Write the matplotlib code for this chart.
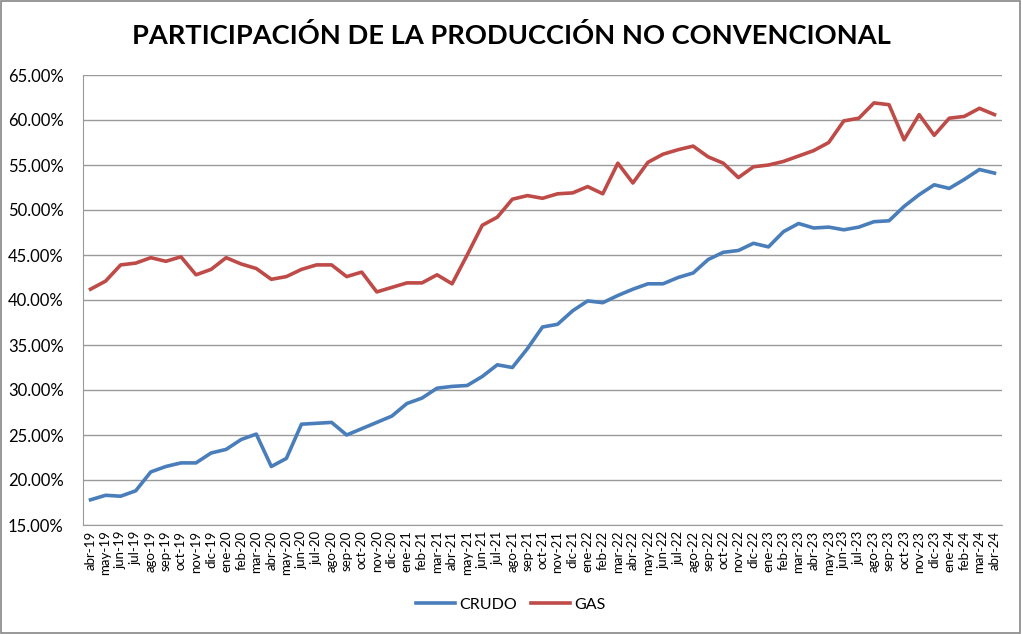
import matplotlib
matplotlib.use("Agg")
import matplotlib.pyplot as plt
from matplotlib.patches import Rectangle
from matplotlib.ticker import FuncFormatter

plt.rcParams['font.family'] = ['Lato', 'DejaVu Sans']

meses = ["abr-19", "may-19", "jun-19", "jul-19", "ago-19", "sep-19", "oct-19", "nov-19", "dic-19",
         "ene-20", "feb-20", "mar-20", "abr-20", "may-20", "jun-20", "jul-20", "ago-20", "sep-20",
         "oct-20", "nov-20", "dic-20", "ene-21", "feb-21", "mar-21", "abr-21", "may-21", "jun-21",
         "jul-21", "ago-21", "sep-21", "oct-21", "nov-21", "dic-21", "ene-22", "feb-22", "mar-22",
         "abr-22", "may-22", "jun-22", "jul-22", "ago-22", "sep-22", "oct-22", "nov-22", "dic-22",
         "ene-23", "feb-23", "mar-23", "abr-23", "may-23", "jun-23", "jul-23", "ago-23", "sep-23",
         "oct-23", "nov-23", "dic-23", "ene-24", "feb-24", "mar-24", "abr-24"]

crudo = [17.8, 18.3, 18.2, 18.8, 20.9, 21.5, 21.9, 21.9, 23.0,
         23.4, 24.5, 25.1, 21.5, 22.4, 26.2, 26.3, 26.4, 25.0,
         25.7, 26.4, 27.1, 28.5, 29.1, 30.2, 30.4, 30.5, 31.5,
         32.8, 32.5, 34.6, 37.0, 37.3, 38.8, 39.9, 39.7, 40.5,
         41.2, 41.8, 41.8, 42.5, 43.0, 44.5, 45.3, 45.5, 46.3,
         45.9, 47.6, 48.5, 48.0, 48.1, 47.8, 48.1, 48.7, 48.8,
         50.4, 51.7, 52.8, 52.4, 53.4, 54.5, 54.1]

gas = [41.2, 42.1, 43.9, 44.1, 44.7, 44.3, 44.8, 42.8, 43.4,
       44.7, 44.0, 43.5, 42.3, 42.6, 43.4, 43.9, 43.9, 42.6,
       43.1, 40.9, 41.4, 41.9, 41.9, 42.8, 41.8, 45.0, 48.3,
       49.2, 51.2, 51.6, 51.3, 51.8, 51.9, 52.6, 51.8, 55.2,
       53.0, 55.3, 56.2, 56.7, 57.1, 55.9, 55.2, 53.6, 54.8,
       55.0, 55.4, 56.0, 56.6, 57.5, 59.9, 60.2, 61.9, 61.7,
       57.8, 60.6, 58.3, 60.2, 60.4, 61.3, 60.6]

fig = plt.figure(figsize=(10.22, 6.34), dpi=100)
ax = fig.add_axes([83 / 1022, 1 - 525 / 634, 919 / 1022, 450 / 634])

x = list(range(len(meses)))
ax.plot(x, crudo, color="#4A7EBB", linewidth=2.6, label="CRUDO")
ax.plot(x, gas, color="#BE4B48", linewidth=2.6, label="GAS")

ax.set_xlim(-0.5, len(meses) - 0.5)
ax.set_ylim(15, 65)
ax.set_yticks(range(15, 66, 5))
ax.yaxis.set_major_formatter(FuncFormatter(lambda v, p: f"{v:.2f}%"))
ax.set_xticks(x)
ax.set_xticklabels(meses, rotation=90, fontsize=9.5)
ax.tick_params(axis="y", labelsize=12, length=0, pad=14)
ax.tick_params(axis="x", length=0, pad=4)
ax.grid(axis="y", color="#9A9A9A", linewidth=1)
ax.set_axisbelow(True)
for s in ["top", "right"]:
    ax.spines[s].set_visible(False)
ax.spines["left"].set_color("#9A9A9A")
ax.spines["bottom"].set_color("#9A9A9A")

fig.text(0.5, 1 - 36 / 634, "PARTICIPACIÓN DE LA PRODUCCIÓN NO CONVENCIONAL",
         ha="center", va="center", fontsize=19.6, fontweight="bold")

fig.legend(loc="center", bbox_to_anchor=(0.5, 1 - 605 / 634), ncol=2, frameon=False,
           fontsize=11.5, handlelength=2.4, handletextpad=0.3, columnspacing=0.9)

fig.patches.append(Rectangle((0.001, 0.001), 0.997, 0.997, transform=fig.transFigure,
                             fill=False, edgecolor="#868686", linewidth=1.2))

fig.savefig("out.png", dpi=100)
